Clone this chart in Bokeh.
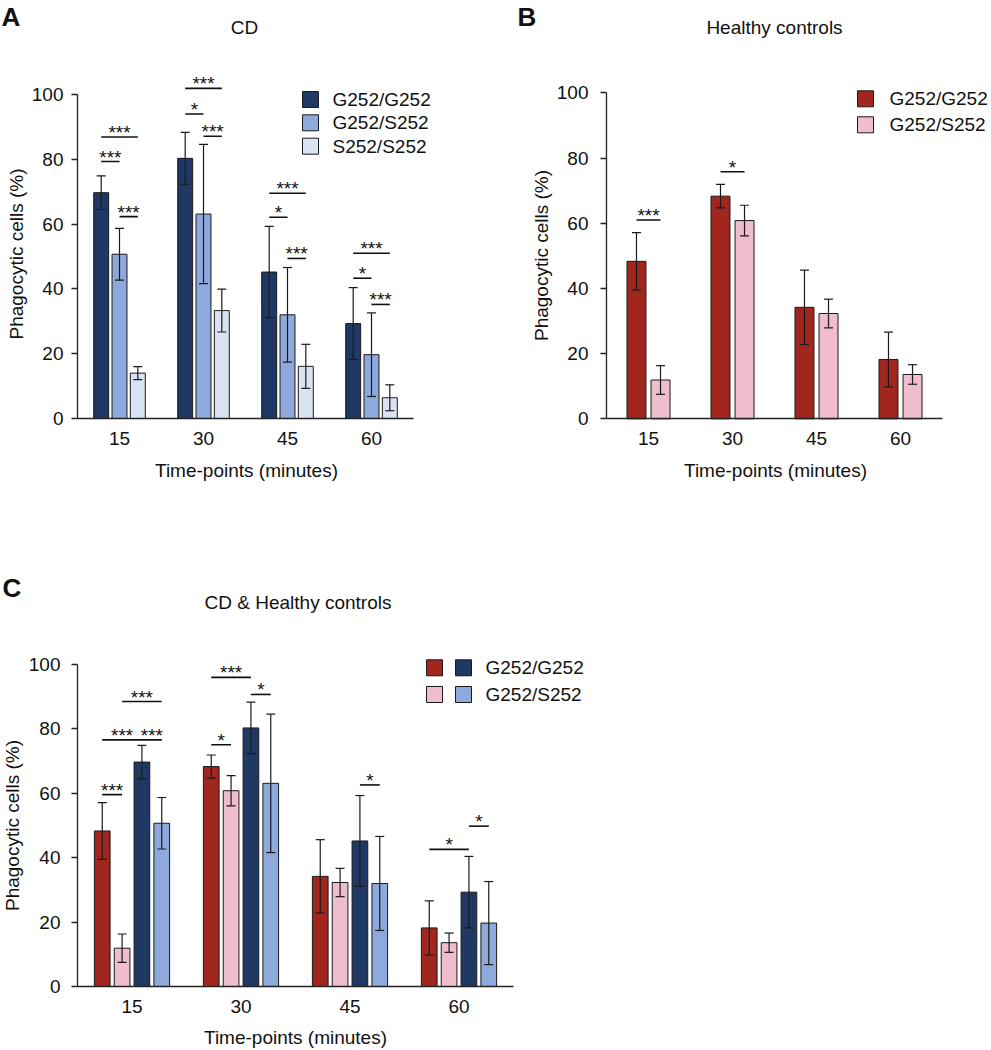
import math
from bokeh.plotting import figure
from bokeh.models import (Range1d, FixedTicker, Label, BoxAnnotation, Whisker,
                          ColumnDataSource, TeeHead)
from bokeh.layouts import column, row
from bokeh.core.properties import value
from bokeh.embed import file_html
from bokeh.resources import INLINE

# ---------------- data ----------------
times = ["15", "30", "45", "60"]
cd_labels = ["G252/G252", "G252/S252", "S252/S252"]
hc_labels = ["G252/G252", "G252/S252"]

cd_gg = [69.7, 80.3, 45.2, 29.3]
cd_gg_err = [5.2, 8.0, 14.1, 11.1]
cd_gs = [50.7, 63.1, 32.0, 19.7]
cd_gs_err = [8.0, 21.5, 14.6, 12.9]
cd_ss = [14.0, 33.3, 16.1, 6.4]
cd_ss_err = [2.0, 6.6, 6.8, 4.0]

hc_gg = [48.3, 68.3, 34.2, 18.2]
hc_gg_err = [8.8, 3.6, 11.4, 8.4]
hc_gs = [11.9, 60.8, 32.3, 13.6]
hc_gs_err = [4.4, 4.7, 4.4, 3.0]

# significance brackets: (time index, bar i, bar j, height, stars)
sig_a = [(0, 0, 2, 86.9, "***"), (0, 0, 1, 79.3, "***"), (0, 1, 2, 62.3, "***"),
         (1, 0, 2, 101.9, "***"), (1, 0, 1, 94.0, "*"), (1, 1, 2, 87.1, "***"),
         (2, 0, 2, 69.5, "***"), (2, 0, 1, 62.1, "*"), (2, 1, 2, 49.4, "***"),
         (3, 0, 2, 51.0, "***"), (3, 0, 1, 43.3, "*"), (3, 1, 2, 35.2, "***")]
sig_b = [(0, 0, 1, 61.0, "***"), (1, 0, 1, 75.8, "*")]
# panel C bar order: HC G/G, HC G/S, CD G/G, CD G/S
sig_c = [(0, 0, 1, 59.6, "***"), (0, 0, 2, 76.6, "***"), (0, 2, 3, 76.6, "***"),
         (0, 1, 3, 88.5, "***"),
         (1, 0, 1, 75.1, "*"), (1, 0, 2, 96.0, "***"), (1, 2, 3, 90.7, "*"),
         (2, 2, 3, 62.6, "*"),
         (3, 0, 2, 42.6, "*"), (3, 2, 3, 49.8, "*")]

# ---------------- style ----------------
FONT = "Liberation Sans"
TXT = "#111111"
AX = "#222222"
NAVY, MBLUE, LBLUE = "#203864", "#8eaadc", "#dae3f3"
DRED, PINK = "#a1261e", "#efbdcb"


def make_panel(g, series, offsets, bw, sigs, ystand):
    # g: page geometry of the figure and of its data scale
    x0p, y0p, W, H = g["x0"], g["y0"], g["W"], g["H"]
    ax_x, ax_y, sx, sy = g["ax_x"], g["ax_y"], g["sx"], g["sy"]
    X = lambda px: 0.5 + (px - ax_x) / sx
    Y = lambda py: (ax_y - py) / sy
    p = figure(width=W, height=H,
               x_range=Range1d(X(x0p), X(x0p + W)),
               y_range=Range1d(Y(y0p + H), Y(y0p)),
               output_backend="svg", toolbar_location=None,
               min_border_left=0, min_border_right=0,
               min_border_top=0, min_border_bottom=0)
    p.outline_line_color = None
    p.xgrid.visible = False
    p.ygrid.visible = False
    p.background_fill_color = "white"
    p.border_fill_color = "white"

    p.xaxis.fixed_location = 0
    p.yaxis.fixed_location = 0.5
    p.xaxis.ticker = FixedTicker(ticks=[1, 2, 3, 4])
    p.xaxis.major_label_overrides = {i + 1: t for i, t in enumerate(times)}
    p.xaxis.bounds = (0.5, 4.5)
    p.xaxis.major_tick_out = 0
    p.xaxis.major_tick_in = 0
    p.xaxis.major_label_standoff = 13
    p.yaxis.ticker = FixedTicker(ticks=[0, 20, 40, 60, 80, 100])
    p.yaxis.bounds = (0, 100)
    p.yaxis.major_tick_out = 6
    p.yaxis.major_tick_in = 0
    p.yaxis.major_label_standoff = ystand
    for ax in (p.xaxis, p.yaxis):
        ax.minor_tick_out = 0
        ax.minor_tick_in = 0
        ax.axis_line_color = AX
        ax.axis_line_width = 1.3
        ax.major_tick_line_color = AX
        ax.major_tick_line_width = 1.3
        ax.major_label_text_font = FONT
        ax.major_label_text_font_size = "19px"
        ax.major_label_text_color = TXT

    centers = {}
    for k, (vals, errs, color, lab) in enumerate(series):
        xs = [i + 1 + offsets[k] for i in range(len(times))]
        for i, xv in enumerate(xs):
            centers[(i, k)] = xv
        p.vbar(x=xs, top=vals, width=bw, fill_color=color, line_color="#1a1a1a",
               line_width=1)
        src = ColumnDataSource(dict(x=xs, lo=[v - e for v, e in zip(vals, errs)],
                                    hi=[v + e for v, e in zip(vals, errs)]))
        w = Whisker(source=src, base="x", lower="lo", upper="hi",
                    line_color="#1a1a1a", line_width=1.2,
                    upper_head=TeeHead(size=9, line_color="#1a1a1a", line_width=1.2),
                    lower_head=TeeHead(size=9, line_color="#1a1a1a", line_width=1.2))
        w.level = "annotation"
        p.add_layout(w)

    x0s, x1s, ys, tx, ty, tt = [], [], [], [], [], []
    for (ti, a, b, h, s) in sigs:
        xa, xb = centers[(ti, a)], centers[(ti, b)]
        x0s.append(xa)
        x1s.append(xb)
        ys.append(h)
        tx.append((xa + xb) / 2)
        ty.append(h + 4.5 / sy)
        tt.append(s)
    p.segment(x0=x0s, y0=ys, x1=x1s, y1=ys, line_color="#111111", line_width=1.6)
    p.text(x=tx, y=ty, text=tt, text_font=value(FONT), text_font_size="19px",
           text_align="center", text_baseline="middle", text_color=TXT)
    return p, X, Y


def lab(p, x, y, text, size="19px", align="center", angle=0.0, bold=False,
        baseline="middle"):
    p.add_layout(Label(x=x, y=y, text=text, text_font=FONT, text_font_size=size,
                       text_align=align, text_baseline=baseline, angle=angle,
                       text_color=TXT, text_font_style="bold" if bold else "normal"))


def swatch(p, X, Y, x0, x1, yc, color):
    p.add_layout(BoxAnnotation(left=X(x0), right=X(x1), top=Y(yc - 8), bottom=Y(yc + 8),
                               fill_color=color, fill_alpha=1.0, line_color="#1a1a1a",
                               line_alpha=1.0, line_width=1, level="annotation"))


# ---------------- panel A ----------------
gA = dict(x0=0, y0=0, W=495, H=490, ax_x=77, ax_y=418, sx=84.0, sy=3.24)
seriesA = [(cd_gg, cd_gg_err, NAVY, cd_labels[0]),
           (cd_gs, cd_gs_err, MBLUE, cd_labels[1]),
           (cd_ss, cd_ss_err, LBLUE, cd_labels[2])]
pA, XA, YA = make_panel(gA, seriesA, [-0.218, 0.0, 0.218], 0.178, sig_a, 8)
lab(pA, XA(244), YA(27), "CD")
lab(pA, XA(1), YA(1), "A", size="26px", align="left", bold=True, baseline="top")
lab(pA, XA(16), YA(253.5), "Phagocytic cells (%)", angle=math.pi / 2)
lab(pA, XA(246), YA(470), "Time-points (minutes)")
for r, (yc, c) in enumerate(zip([99, 122.3, 145.7], [NAVY, MBLUE, LBLUE])):
    swatch(pA, XA, YA, 302, 318, yc, c)
    lab(pA, XA(332), YA(yc), cd_labels[r], align="left")

# ---------------- panel B ----------------
gB = dict(x0=495, y0=0, W=495, H=490, ax_x=606, ax_y=418.3, sx=84.0, sy=3.26)
seriesB = [(hc_gg, hc_gg_err, DRED, hc_labels[0]),
           (hc_gs, hc_gs_err, PINK, hc_labels[1])]
pB, XB, YB = make_panel(gB, seriesB, [-0.143, 0.143], 0.226, sig_b, 12)
lab(pB, XB(774), YB(27), "Healthy controls")
lab(pB, XB(517), YB(1), "B", size="26px", align="left", bold=True, baseline="top")
lab(pB, XB(541), YB(255), "Phagocytic cells (%)", angle=math.pi / 2)
lab(pB, XB(775), YB(470), "Time-points (minutes)")
for r, (yc, c) in enumerate(zip([98.3, 124.3], [DRED, PINK])):
    swatch(pB, XB, YB, 857, 873, yc, c)
    lab(pB, XB(889), YB(yc), hc_labels[r], align="left")

# ---------------- panel C ----------------
gC = dict(x0=0, y0=490, W=620, H=558, ax_x=77, ax_y=986, sx=109.0, sy=3.22)
seriesC = [(hc_gg, hc_gg_err, DRED, hc_labels[0]),
           (hc_gs, hc_gs_err, PINK, hc_labels[1]),
           (cd_gg, cd_gg_err, NAVY, cd_labels[0]),
           (cd_gs, cd_gs_err, MBLUE, cd_labels[1])]
st = 0.182
pC, XC, YC = make_panel(gC, seriesC, [-1.5 * st, -0.5 * st, 0.5 * st, 1.5 * st], 0.144,
                        sig_c, 11)
lab(pC, XC(297.5), YC(602), "CD & Healthy controls")
lab(pC, XC(2), YC(587), "C", size="26px", align="left", bold=True)
lab(pC, XC(12), YC(825), "Phagocytic cells (%)", angle=math.pi / 2)
lab(pC, XC(295), YC(1037), "Time-points (minutes)")
for r, (yc, c1, c2) in enumerate(zip([667.3, 694], [DRED, PINK], [NAVY, MBLUE])):
    swatch(pC, XC, YC, 426, 442, yc, c1)
    swatch(pC, XC, YC, 455, 471, yc, c2)
    lab(pC, XC(485), YC(yc), hc_labels[r], align="left")

layout = column(row(pA, pB), pC)
open("out.html", "w").write(file_html(layout, INLINE))
